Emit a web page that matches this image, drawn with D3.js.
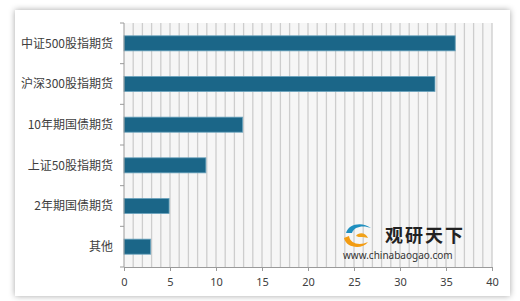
<!DOCTYPE html>
<html><head><meta charset="utf-8">
<script src="https://cdn.jsdelivr.net/npm/d3@7"></script>
<style>
html,body{margin:0;padding:0;background:#fff;}
svg{display:block;font-family:"Noto Sans CJK SC","Microsoft YaHei",sans-serif;}
</style></head>
<body>
<svg id="c" width="520" height="301"></svg>
<script>
const categories = ["中证500股指期货","沪深300股指期货","10年期国债期货","上证50股指期货","2年期国债期货","其他"];
const values = [36, 33.8, 12.9, 8.9, 4.9, 2.9];
const xTicks = [0,5,10,15,20,25,30,35,40];

(function(){
const svg = d3.select("#c");
const defs = svg.append("defs");
const f = defs.append("filter").attr("id","sh").attr("x","-10%").attr("y","-10%").attr("width","120%").attr("height","120%");
f.append("feDropShadow").attr("dx",0).attr("dy",0).attr("stdDeviation",3).attr("flood-color","#000").attr("flood-opacity",0.35);

svg.append("rect").attr("x",15).attr("y",10).attr("width",495).attr("height",286).attr("fill","#fff").attr("filter","url(#sh)");

const pL=124, pR=492, pT=23, pB=267;
const x = d3.scaleLinear().domain([0,40]).range([pL,pR]);
const y = d3.scaleBand().domain(categories).range([pT,pB]).paddingInner(0.63).paddingOuter(0.315);

svg.append("rect").attr("x",pL).attr("y",pT).attr("width",pR-pL).attr("height",pB-pT).attr("fill","#f6f6f6");
svg.append("g").selectAll("line").data(d3.range(1,41)).join("line")
  .attr("x1",d=>x(d)).attr("x2",d=>x(d)).attr("y1",pT).attr("y2",pB)
  .attr("stroke","#cdcdcd").attr("stroke-width",1.3);

svg.append("g").selectAll("rect").data(categories).join("rect")
  .attr("x",x(0)).attr("y",d=>y(d)).attr("height",y.bandwidth())
  .attr("width",(d,i)=>x(values[i])-x(0))
  .attr("fill","#1b6688").attr("stroke","#6aa3bd").attr("stroke-width",0.8);

const yAxis = svg.append("g").attr("transform",`translate(${pL},0)`);
yAxis.append("line").attr("x1",0).attr("x2",0).attr("y1",pT).attr("y2",pB).attr("stroke","#9a9a9a");
const step = (pB-pT)/categories.length;
yAxis.selectAll("line.t").data(d3.range(0,categories.length+1)).join("line").attr("class","t")
  .attr("x1",-4).attr("x2",0).attr("y1",d=>pT+d*step).attr("y2",d=>pT+d*step).attr("stroke","#9a9a9a");
yAxis.selectAll("text").data(categories).join("text")
  .attr("x",-11).attr("y",d=>y(d)+y.bandwidth()/2).attr("dy","0.35em")
  .attr("text-anchor","end").attr("font-size",12).attr("fill","#404040").text(d=>d);

const xa = svg.append("g").attr("transform",`translate(0,${pB})`)
  .call(d3.axisBottom(x).tickValues(xTicks).tickSize(4).tickPadding(7));
xa.select(".domain").attr("stroke","#9a9a9a");
xa.selectAll(".tick line").attr("stroke","#9a9a9a");
xa.selectAll("text").attr("font-size",11).attr("fill","#404040").attr("font-family","\"Noto Sans\",sans-serif");

const wm = svg.append("g");
wm.append("path").attr("d","M346,233 C348,224 362,221 371,228 C364,225 354,226 352,233 Z").attr("fill","#1f8fbf");
wm.append("path").attr("d","M344,238 C346,248 362,250 368,242 C360,246 350,244 349,236 Z").attr("fill","#f39c12");
wm.append("path").attr("d","M356,236 C358,232 366,232 368,238 C362,236 360,238 356,236 Z").attr("fill","#f1a21a");
wm.append("text").attr("x",385).attr("y",242).attr("font-size",18).attr("font-weight","bold").attr("letter-spacing",2).attr("fill","#222").text("观研天下");
wm.append("text").attr("x",343).attr("y",259).attr("font-size",10).attr("fill","#333").attr("font-family","\"Noto Sans\",sans-serif").text("www.chinabaogao.com");
})();
</script>
</body></html>
